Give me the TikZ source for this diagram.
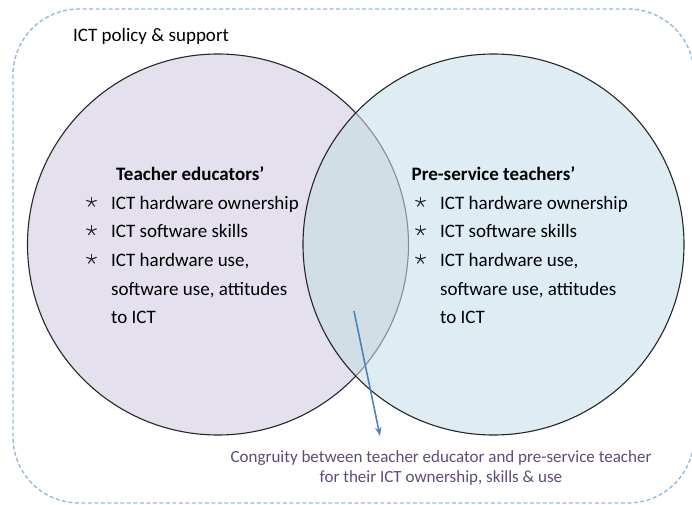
\documentclass[tikz,border=0pt]{standalone}
\usepackage{fontspec}
\setmainfont{Carlito}
\usetikzlibrary{arrows.meta}
\definecolor{frameblue}{RGB}{150,185,222}
\definecolor{lavender}{RGB}{229,224,237}
\definecolor{paleblue}{RGB}{221,237,243}
\definecolor{overlapc}{RGB}{209,222,230}
\definecolor{arrowblue}{RGB}{79,129,189}
\definecolor{notepurple}{RGB}{95,73,122}
\begin{document}
\begin{tikzpicture}[x=1bp,y=-1bp,
  frame/.style={draw=frameblue,line width=1.4bp,dash pattern=on 4bp off 2.5bp,rounded corners=66bp},
  ring/.style={draw=black!85,line width=1.1bp},
  body/.style={anchor=base west,inner sep=0pt,font=\fontsize{19bp}{23bp}\selectfont},
  head/.style={body,font=\fontsize{19bp}{23bp}\selectfont\bfseries},
  starbox/.style={circle,inner sep=0pt,minimum size=10.5bp},
  starline/.style={draw=black!85,line width=1.1bp},
  note/.style={anchor=base,inner sep=0pt,text=notepurple,font=\fontsize{17bp}{20bp}\selectfont},
  pointer/.style={draw=arrowblue,line width=1.6bp,-{Stealth[length=9bp,width=6.5bp]}}]
\useasboundingbox (0,0) rectangle (692,505);
% outer frame
\draw[frame] (13,9) rectangle (694,503);
\node[body] (policy) at (73,41.5) {ICT policy \& support};
% circles
\coordinate (cl) at (218,244.5);
\coordinate (cr) at (493.5,244.5);
\fill[lavender] (cl) circle[radius=190.5bp];
\draw[ring] (cl) circle[radius=190.5bp];
\fill[paleblue] (cr) circle[radius=190.5bp];
\begin{scope}
  \clip (cl) circle[radius=190.5bp];
  \fill[overlapc] (cr) circle[radius=190.5bp];
\end{scope}
\begin{scope}
  \clip (cr) circle[radius=190.5bp];
  \draw[draw=black!45,line width=1.1bp] (cl) circle[radius=190.5bp];
\end{scope}
\draw[ring] (cr) circle[radius=190.5bp];
% left texts
\node[head] (lt) at (116,181) {Teacher educators’};
\node[starbox] (lb1) at (91.5,202) {};
\node[starbox] (lb2) at (91.5,230.5) {};
\node[starbox] (lb3) at (91.5,259) {};
\node[body] (l1) at (111,209.5) {ICT hardware ownership};
\node[body] (l2) at (111,238) {ICT software skills};
\node[body] (l3) at (111,266.5) {ICT hardware use,};
\node[body] (l4) at (111,295) {software use, attitudes};
\node[body] (l5) at (111,323.5) {to ICT};
% right texts
\node[head] (rt) at (411.5,181) {Pre-service teachers’};
\node[starbox] (rb1) at (420.5,202) {};
\node[starbox] (rb2) at (420.5,230.5) {};
\node[starbox] (rb3) at (420.5,259) {};
\node[body] (r1) at (440,209.5) {ICT hardware ownership};
\node[body] (r2) at (440,238) {ICT software skills};
\node[body] (r3) at (440,266.5) {ICT hardware use,};
\node[body] (r4) at (440,295) {software use, attitudes};
\node[body] (r5) at (440,323.5) {to ICT};
% asterisk bullets
\foreach \s in {lb1,lb2,lb3,rb1,rb2,rb3}
  \foreach \a in {90,162,234,306,18}
    \draw[starline] (\s.center) -- (\s.\a);
% note
\node[note] (n1) at (441,462) {Congruity between teacher educator and pre-service teacher};
\node[note] (n2) at (441,482) {for their ICT ownership, skills \& use};
\coordinate (pa) at (354,311);
\coordinate (pb) at (380,436);
\draw[pointer] (pa) -- (pb);
\end{tikzpicture}
\end{document}
